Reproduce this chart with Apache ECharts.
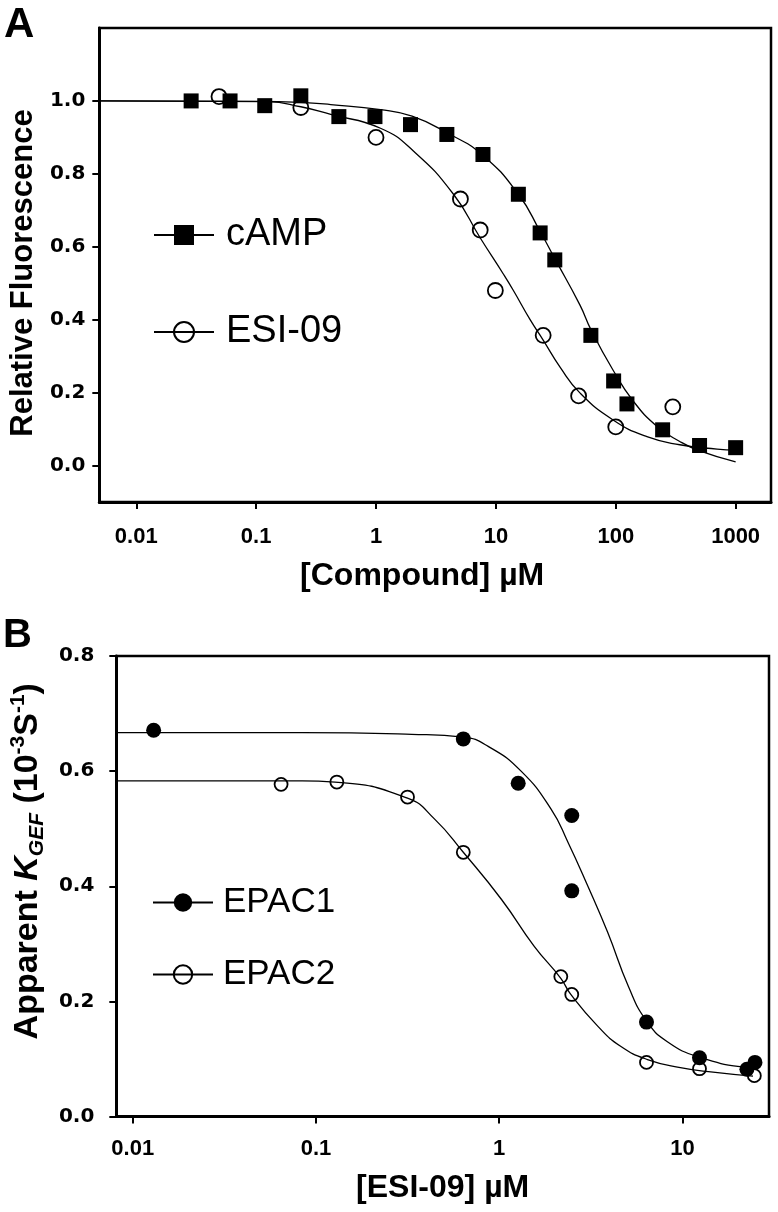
<!DOCTYPE html>
<html>
<head>
<meta charset="utf-8">
<script src="https://cdn.jsdelivr.net/npm/echarts@6/dist/echarts.min.js"></script>
<style>
  html, body { margin: 0; padding: 0; background: #fff; }
  #chart { width: 778px; height: 1212px; }
</style>
</head>
<body>
<div id="chart"></div>
<script>
  // panel A: data points
  const campX = [0.0287, 0.0606, 0.118, 0.236, 0.49, 0.98, 1.94, 3.9, 7.8, 15.4, 23.4, 31, 62, 96, 124, 246, 500, 1000]
  const campY = [1.0, 1.0, 0.987, 1.014, 0.957, 0.957, 0.935, 0.908, 0.853, 0.744, 0.638, 0.564, 0.357, 0.232, 0.169, 0.098, 0.055, 0.049]
  const esiX = [0.049, 0.236, 1.0, 5.06, 7.4, 9.9, 24.8, 49, 100, 299]
  const esiY = [1.012, 0.982, 0.9, 0.731, 0.646, 0.48, 0.357, 0.191, 0.106, 0.161]

  // panel A: fitted curves
  const campFitX = [0.00483, 0.1, 0.236, 0.419, 1.09, 2.0, 3.94, 7.71, 15.4, 23.4, 31.2, 50.3, 62.2, 94.8, 139, 220, 342, 502, 1000]
  const campFitY = [1.0, 0.999, 0.996, 0.99, 0.976, 0.958, 0.912, 0.852, 0.744, 0.642, 0.566, 0.44, 0.372, 0.262, 0.178, 0.108, 0.066, 0.040, 0.010]
  const esiFitX = [0.00483, 0.125, 0.236, 0.419, 1.09, 2.06, 4.43, 7.41, 11.5, 14, 19.3, 24.8, 34.3, 50, 95, 182, 342, 700, 1000]
  const esiFitY = [1.0, 0.998, 0.984, 0.963, 0.925, 0.862, 0.744, 0.624, 0.526, 0.48, 0.40, 0.344, 0.27, 0.2, 0.125, 0.079, 0.057, 0.045, 0.042]

  // panel B: data points
  const epac1X = [0.013, 0.637, 1.27, 2.49, 2.49, 6.37, 12.4, 22.5, 24.9]
  const epac1Y = [0.671, 0.656, 0.579, 0.523, 0.392, 0.164, 0.102, 0.082, 0.094]
  const epac2X = [0.0645, 0.13, 0.316, 0.637, 2.17, 2.49, 6.37, 12.4, 24.7]
  const epac2Y = [0.577, 0.581, 0.555, 0.459, 0.243, 0.212, 0.094, 0.083, 0.071]

  // panel B: fitted curves
  const epac1FitX = [0.0081, 0.084, 0.333, 0.637, 0.871, 1.317, 1.92, 2.37, 3.05, 3.91, 5.09, 6.37, 8.28, 12.4, 22.5, 25]
  const epac1FitY = [0.667, 0.667, 0.664, 0.659, 0.643, 0.600, 0.534, 0.477, 0.40, 0.32, 0.225, 0.166, 0.130, 0.103, 0.085, 0.084]
  const epac2FitX = [0.0081, 0.084, 0.127, 0.316, 0.443, 0.637, 1.03, 1.55, 2.17, 2.46, 3.45, 4.6, 6.45, 9.75, 14.7, 24.3]
  const epac2FitY = [0.583, 0.583, 0.581, 0.553, 0.517, 0.459, 0.377, 0.296, 0.240, 0.212, 0.157, 0.122, 0.099, 0.085, 0.077, 0.070]

  // tick labels
  const xTicksA = [0.01, 0.1, 1, 10, 100, 1000]
  const xTickLabelsA = ['0.01', '0.1', '1', '10', '100', '1000']
  const yTicksA = [0, 0.2, 0.4, 0.6, 0.8, 1.0]
  const xTicksB = [0.01, 0.1, 1, 10]
  const xTickLabelsB = ['0.01', '0.1', '1', '10']

  const FONT = "'Liberation Sans', Arial, sans-serif"
  const WIDE = "'DejaVu Sans', sans-serif"
  const toPts = (xs, ys) => xs.map((x, i) => [Math.log10(x), ys[i]])
  const logLabel = (ticks, labels) => v => {
    const i = ticks.findIndex(t => Math.abs(Math.log10(t) - v) < 1e-6)
    return i >= 0 ? labels[i] : ''
  }

  const chart = echarts.init(document.getElementById('chart'), null, { renderer: 'canvas' })

  const axisLine = { show: true, onZero: false, lineStyle: { color: '#000', width: 3 } }
  const axisTick = { show: true, inside: false, length: 7, lineStyle: { color: '#000', width: 2 } }
  const tickFont = { color: '#000', fontSize: 22, fontWeight: 'bold', fontFamily: FONT }
  const yTickFont = { color: '#000', fontSize: 20, fontWeight: 'bold', fontFamily: WIDE }
  const nameFont = { color: '#000', fontSize: 32, fontWeight: 'bold', fontFamily: FONT }

  // data series drawn as line with invisible line so the legend shows "—■—"
  const pointSeries = (name, pts, idx, symbol, size, filled) => ({
    name: name,
    type: 'line',
    xAxisIndex: idx,
    yAxisIndex: idx,
    data: pts,
    symbol: symbol,
    symbolSize: size,
    showSymbol: true,
    lineStyle: { opacity: 0 },
    itemStyle: filled
      ? { color: '#000', borderColor: '#000', borderWidth: 0 }
      : { color: 'rgba(0,0,0,0)', borderColor: '#000', borderWidth: 1.8 },
    z: 5,
    animation: false
  })
  const fitSeries = (pts, idx) => ({
    type: 'line',
    xAxisIndex: idx,
    yAxisIndex: idx,
    data: pts,
    showSymbol: false,
    symbol: 'none',
    smooth: 0.5,
    lineStyle: { color: '#000', width: 1.3 },
    z: 3,
    silent: true,
    animation: false
  })

  const option = {
    backgroundColor: '#fff',
    animation: false,
    textStyle: { fontFamily: FONT },
    grid: [
      { left: 98, top: 28, width: 673, height: 474, show: true, borderColor: '#000', borderWidth: 2.5, backgroundColor: 'transparent' },
      { left: 113.5, top: 656, width: 655.5, height: 460.5, show: true, borderColor: '#000', borderWidth: 2.5, backgroundColor: 'transparent' }
    ],
    xAxis: [
      {
        type: 'value', gridIndex: 0,
        min: -2.308, max: 3.295,
        axisLine: axisLine,
        axisTick: Object.assign({}, axisTick, { customValues: xTicksA.map(Math.log10) }),
        axisLabel: Object.assign({}, tickFont, { margin: 24, customValues: xTicksA.map(Math.log10), formatter: logLabel(xTicksA, xTickLabelsA) }),
        splitLine: { show: false },
        name: '[Compound] \u00b5M',
        nameLocation: 'middle',
        nameGap: 58,
        nameTextStyle: Object.assign({}, nameFont, { padding: [0, 26, 0, 0] })
      },
      {
        type: 'value', gridIndex: 1,
        min: -2.0897, max: 1.4728,
        axisLine: axisLine,
        axisTick: Object.assign({}, axisTick, { customValues: xTicksB.map(Math.log10) }),
        axisLabel: Object.assign({}, tickFont, { margin: 21, customValues: xTicksB.map(Math.log10), formatter: logLabel(xTicksB, xTickLabelsB) }),
        splitLine: { show: false },
        name: '[ESI-09] \u00b5M',
        nameLocation: 'middle',
        nameGap: 56,
        nameTextStyle: nameFont
      }
    ],
    yAxis: [
      {
        type: 'value', gridIndex: 0,
        min: -0.1, max: 1.2,
        axisLine: axisLine,
        axisTick: Object.assign({}, axisTick, { customValues: yTicksA }),
        axisLabel: Object.assign({}, yTickFont, { margin: 14, customValues: yTicksA, formatter: v => v.toFixed(1) }),
        splitLine: { show: false },
        name: 'Relative Fluorescence',
        nameLocation: 'middle',
        nameGap: 56,
        nameTextStyle: Object.assign({}, nameFont, { fontSize: 31, padding: [0, 16, 0, 0] })
      },
      {
        type: 'value', gridIndex: 1,
        min: 0, max: 0.8, interval: 0.2,
        axisLine: axisLine,
        axisTick: axisTick,
        axisLabel: Object.assign({}, yTickFont, { margin: 22, formatter: v => v.toFixed(1) }),
        splitLine: { show: false },
        name: 'Apparent {i|K}{sub|GEF} (10{sup|-3}S{sup|-1})',
        nameLocation: 'middle',
        nameGap: 60,
        nameTextStyle: Object.assign({}, nameFont, {
          fontSize: 34,
          padding: [0, 0, 0, 50],
          lineHeight: 40,
          rich: {
            i: { fontSize: 34, fontWeight: 'bold', fontStyle: 'italic', fontFamily: FONT, color: '#000', lineHeight: 40 },
            sub: { fontSize: 21, fontWeight: 'bold', fontStyle: 'italic', fontFamily: FONT, color: '#000', verticalAlign: 'bottom', lineHeight: 40 },
            sup: { fontSize: 21, fontWeight: 'bold', fontFamily: FONT, color: '#000', verticalAlign: 'top', lineHeight: 40 }
          }
        })
      }
    ],
    legend: [
      {
        orient: 'vertical',
        left: 148, top: 211,
        itemWidth: 60, itemHeight: 25, itemGap: 59,
        data: ['cAMP', 'ESI-09'],
        lineStyle: { color: '#000', width: 2, opacity: 1 },
        textStyle: { color: '#000', fontSize: 38, fontFamily: FONT, padding: [0, 0, 0, 7] },
        selectedMode: false
      },
      {
        orient: 'vertical',
        left: 147, top: 880,
        itemWidth: 60, itemHeight: 23, itemGap: 37,
        data: ['EPAC1', 'EPAC2'],
        lineStyle: { color: '#000', width: 2, opacity: 1 },
        textStyle: { color: '#000', fontSize: 35, fontFamily: FONT, padding: [0, 0, 0, 5] },
        selectedMode: false
      }
    ],
    graphic: [
      { type: 'text', left: 4, top: 4, style: { text: 'A', fontSize: 42, fontWeight: 'bold', fontFamily: FONT, fill: '#000' } },
      { type: 'text', left: 3, top: 616, style: { text: 'B', fontSize: 40, fontWeight: 'bold', fontFamily: FONT, fill: '#000' } }
    ],
    series: [
      fitSeries(toPts(campFitX, campFitY), 0),
      fitSeries(toPts(esiFitX, esiFitY), 0),
      pointSeries('cAMP', toPts(campX, campY), 0, 'rect', 15, true),
      pointSeries('ESI-09', toPts(esiX, esiY), 0, 'circle', 15, false),
      fitSeries(toPts(epac1FitX, epac1FitY), 1),
      fitSeries(toPts(epac2FitX, epac2FitY), 1),
      pointSeries('EPAC1', toPts(epac1X, epac1Y), 1, 'circle', 15, true),
      pointSeries('EPAC2', toPts(epac2X, epac2Y), 1, 'circle', 13, false)
    ]
  }

  chart.setOption(option)
  window.addEventListener('resize', () => chart.resize())
</script>
</body>
</html>
